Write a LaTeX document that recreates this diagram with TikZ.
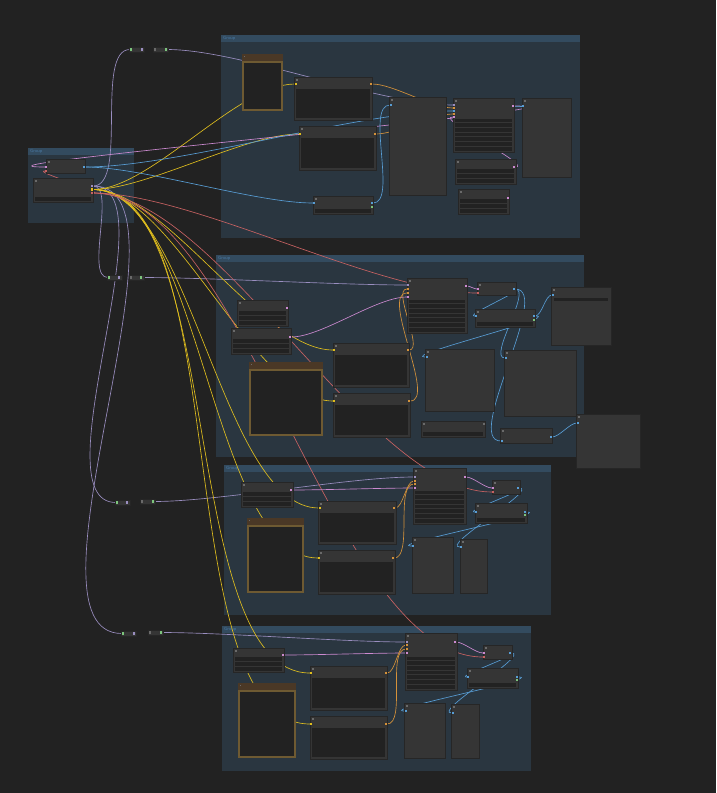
\documentclass[tikz,border=0pt]{standalone}
\usepackage{tikz}
\pgfdeclarelayer{groups}
\pgfdeclarelayer{links}
\pgfsetlayers{groups,links,main}

\definecolor{canvas}{HTML}{222222}
\definecolor{grpbody}{HTML}{2A3640}
\definecolor{grphead}{HTML}{334B5F}
\definecolor{grptext}{HTML}{4A7AA5}
\definecolor{nodebg}{HTML}{353535}
\definecolor{nodeedge}{HTML}{262626}
\definecolor{wellbg}{HTML}{222222}
\definecolor{imgtitle}{HTML}{4A3826}
\definecolor{imgedge}{HTML}{6E5A32}
\definecolor{dotgray}{HTML}{6A6A6A}
\definecolor{cmodel}{HTML}{9A8EC0}
\definecolor{cclip}{HTML}{E0BE1E}
\definecolor{cvae}{HTML}{C86262}
\definecolor{clatent}{HTML}{CC8AD0}
\definecolor{ccond}{HTML}{D4923A}
\definecolor{cimage}{HTML}{589DD4}
\definecolor{cmask}{HTML}{7CC47C}

\tikzset{
  grp/.style={fill=grpbody, anchor=north west, inner sep=0pt, outer sep=0pt,
    path picture={\fill[grphead] (path picture bounding box.north west) rectangle ([yshift=-7pt]path picture bounding box.north east);}},
  grplabel/.style={anchor=west, text=grptext, inner sep=0pt, font=\sffamily\fontsize{4.5}{5}\selectfont},
  cbox/.style={fill=nodebg, draw=nodeedge, line width=.5pt, anchor=north west, inner sep=0pt, outer sep=0pt,
    path picture={\fill[dotgray] ([shift={(2pt,-2pt)}]path picture bounding box.north west) rectangle ++(1.6pt,-1.6pt);}},
  txtbox/.style={cbox,
    path picture={\fill[dotgray] ([shift={(2pt,-2pt)}]path picture bounding box.north west) rectangle ++(1.6pt,-1.6pt);
      \fill[wellbg] ([shift={(2pt,-12pt)}]path picture bounding box.north west) rectangle ([shift={(-2pt,2pt)}]path picture bounding box.south east);}},
  wrows/.style={cbox,
    path picture={\fill[dotgray] ([shift={(2pt,-2pt)}]path picture bounding box.north west) rectangle ++(1.6pt,-1.6pt);
      \foreach \k in {1,...,#1}
        \fill[wellbg] ([shift={(2pt,{(\k-1)*4.7pt+1.5pt})}]path picture bounding box.south west) rectangle ([shift={(-2pt,{(\k-1)*4.7pt+5.2pt})}]path picture bounding box.south east);}},
  imgbox/.style={fill=imgtitle, anchor=north west, inner sep=0pt, outer sep=0pt,
    path picture={\draw[imgedge, line width=1.6pt, fill=wellbg] ([shift={(1pt,-8pt)}]path picture bounding box.north west) rectangle ([shift={(-1pt,1pt)}]path picture bounding box.south east);
      \fill[dotgray] ([shift={(2pt,-2pt)}]path picture bounding box.north west) rectangle ++(1.4pt,-1.4pt);}},
  rer/.style={fill=nodebg, draw=nodeedge, line width=.4pt, anchor=north west, inner sep=0pt, outer sep=0pt, minimum width=15pt, minimum height=5pt},
  port/.style={fill=#1, minimum size=2.2pt, inner sep=0pt, outer sep=0pt},
  lnk/.style={color=#1, line width=.65pt, out=0, in=180, looseness=.64},
}

\begin{document}
\begin{tikzpicture}[x=1pt,y=-1pt]
\useasboundingbox (0,0) rectangle (716,793);
\begin{pgfonlayer}{groups}
\fill[canvas] (0,0) rectangle (716,793);
\node[grp,minimum width=106pt,minimum height=75pt] (grp0) at (28,148) {};
\node[grp,minimum width=359pt,minimum height=203pt] (grp1) at (221,35) {};
\node[grp,minimum width=368pt,minimum height=202pt] (grp2) at (216,255) {};
\node[grp,minimum width=327pt,minimum height=150pt] (grp3) at (224,465) {};
\node[grp,minimum width=309pt,minimum height=145pt] (grp4) at (222,626) {};
\node[grplabel] at ([shift={(2pt,-3.5pt)}]grp0.north west) {Group};
\node[grplabel] at ([shift={(2pt,-3.5pt)}]grp1.north west) {Group};
\node[grplabel] at ([shift={(2pt,-3.5pt)}]grp2.north west) {Group};
\node[grplabel] at ([shift={(2pt,-3.5pt)}]grp3.north west) {Group};
\node[grplabel] at ([shift={(2pt,-3.5pt)}]grp4.north west) {Group};
\end{pgfonlayer}

% left group and reroutes
\node[cbox,minimum width=39pt,minimum height=14pt] (dec0) at (46,159) {};
\node[wrows=1,minimum width=60pt,minimum height=24pt] (ckpt) at (33,178) {};
\node[rer] (ra1) at (129,47) {};
\node[rer] (rb1) at (153,47) {};
\node[rer] (ra2) at (107,275) {};
\node[rer] (rb2) at (129,275) {};
\node[rer] (ra3) at (115,500) {};
\node[rer] (rb3) at (140,499) {};
\node[rer] (ra4) at (121,631) {};
\node[rer] (rb4) at (148,630) {};

% group 1
\node[imgbox,minimum width=41pt,minimum height=57pt] (img1) at (242,54) {};
\node[txtbox,minimum width=78pt,minimum height=43pt] (pos1) at (294,77) {};
\node[txtbox,minimum width=77pt,minimum height=44pt] (neg1) at (299,126) {};
\node[wrows=1,minimum width=60pt,minimum height=18pt] (load1) at (313,196) {};
\node[cbox,minimum width=57pt,minimum height=98pt] (big1) at (389,97) {};
\node[wrows=7,minimum width=61pt,minimum height=54pt] (samp1) at (453,98) {};
\node[cbox,minimum width=49pt,minimum height=79pt] (prev1) at (522,98) {};
\node[wrows=3,minimum width=61pt,minimum height=25pt] (enc1) at (455,159) {};
\node[wrows=3,minimum width=51pt,minimum height=25pt] (lat1) at (458,189) {};

% group 2
\node[wrows=3,minimum width=51pt,minimum height=26pt] (lat2a) at (237,300) {};
\node[wrows=3,minimum width=60pt,minimum height=26pt] (lat2) at (231,328) {};
\node[imgbox,minimum width=74pt,minimum height=74pt] (img2) at (249,362) {};
\node[txtbox,minimum width=76pt,minimum height=44pt] (pos2) at (333,343) {};
\node[txtbox,minimum width=77pt,minimum height=44pt] (neg2) at (333,393) {};
\node[wrows=7,minimum width=60pt,minimum height=55pt] (samp2) at (407,278) {};
\node[cbox,minimum width=39pt,minimum height=13pt] (dec2) at (477,282) {};
\node[wrows=1,minimum width=60pt,minimum height=18pt] (up2) at (475,309) {};
\node[cbox,minimum width=60pt,minimum height=58pt] (prev2c) at (551,287) {};
\fill[wellbg] ([shift={(3pt,-11pt)}]prev2c.north west) rectangle ([shift={(-3pt,-14pt)}]prev2c.north east);
\node[cbox,minimum width=69pt,minimum height=62pt] (prev2a) at (425,349) {};
\node[cbox,minimum width=72pt,minimum height=66pt] (prev2b) at (504,350) {};
\node[wrows=1,minimum width=64pt,minimum height=16pt] (opt2) at (421,421) {};
\node[cbox,minimum width=52pt,minimum height=15pt] (up2b) at (500,428) {};
\node[cbox,minimum width=64pt,minimum height=54pt] (prev2d) at (576,414) {};

% group 3
\node[wrows=3,minimum width=52pt,minimum height=25pt] (lat3) at (241,482) {};
\node[imgbox,minimum width=57pt,minimum height=75pt] (img3) at (247,518) {};
\node[txtbox,minimum width=78pt,minimum height=43pt] (pos3) at (318,501) {};
\node[txtbox,minimum width=77pt,minimum height=44pt] (neg3) at (318,550) {};
\node[wrows=7,minimum width=53pt,minimum height=56pt] (samp3) at (413,468) {};
\node[cbox,minimum width=28pt,minimum height=14pt] (dec3) at (492,480) {};
\node[wrows=1,minimum width=52pt,minimum height=20pt] (up3) at (475,503) {};
\node[cbox,minimum width=41pt,minimum height=56pt] (prev3a) at (412,537) {};
\node[cbox,minimum width=27pt,minimum height=54pt] (prev3b) at (460,539) {};

% group 4
\node[wrows=3,minimum width=51pt,minimum height=24pt] (lat4) at (233,648) {};
\node[imgbox,minimum width=58pt,minimum height=75pt] (img4) at (238,683) {};
\node[txtbox,minimum width=77pt,minimum height=44pt] (pos4) at (310,666) {};
\node[txtbox,minimum width=77pt,minimum height=43pt] (neg4) at (310,716) {};
\node[wrows=7,minimum width=52pt,minimum height=57pt] (samp4) at (405,633) {};
\node[cbox,minimum width=29pt,minimum height=14pt] (dec4) at (483,645) {};
\node[wrows=1,minimum width=51pt,minimum height=20pt] (up4) at (467,668) {};
\node[cbox,minimum width=41pt,minimum height=55pt] (prev4a) at (404,703) {};
\node[cbox,minimum width=28pt,minimum height=54pt] (prev4b) at (451,704) {};

% ports
\node[port=clatent] (dec0-l) at (46,167) {};
\node[port=cvae] (dec0-v) at (46,171) {};
\node[port=cimage] (dec0-o) at (84,167) {};
\node[port=cmodel] (ckpt-m) at (92,186) {};
\node[port=cclip] (ckpt-c) at (92,189.5) {};
\node[port=cvae] (ckpt-v) at (92,193) {};
\node[port=cmask] (ra1-i) at (131,49.5) {};
\node[port=cmodel] (ra1-o) at (142,49.5) {};
\node[port=dotgray] (rb1-i) at (155,49.5) {};
\node[port=cmask] (rb1-o) at (166,49.5) {};
\node[port=cmask] (ra2-i) at (109,277.5) {};
\node[port=cmodel] (ra2-o) at (119,277.5) {};
\node[port=dotgray] (rb2-i) at (131,277.5) {};
\node[port=cmask] (rb2-o) at (141,277.5) {};
\node[port=cmask] (ra3-i) at (117,502.5) {};
\node[port=cmodel] (ra3-o) at (127,502.5) {};
\node[port=dotgray] (rb3-i) at (142,501.5) {};
\node[port=cmask] (rb3-o) at (153,501.5) {};
\node[port=cmask] (ra4-i) at (123,633.5) {};
\node[port=cmodel] (ra4-o) at (134,633.5) {};
\node[port=dotgray] (rb4-i) at (150,632.5) {};
\node[port=cmask] (rb4-o) at (161,632.5) {};

\node[port=cclip] (pos1-i) at (296,84) {};
\node[port=ccond] (pos1-o) at (371,84) {};
\node[port=cclip] (neg1-i) at (300,134) {};
\node[port=ccond] (neg1-o) at (375,134) {};
\node[port=cimage] (load1-i) at (314,203) {};
\node[port=cimage] (load1-o) at (372,203) {};
\node[port=cmask] (load1-g) at (372,207) {};
\node[port=cimage] (big1-i) at (391,105) {};
\node[port=cmodel] (samp1-m) at (454,105) {};
\node[port=ccond] (samp1-p) at (454,108) {};
\node[port=cimage] (samp1-b) at (454,111) {};
\node[port=ccond] (samp1-n) at (454,114) {};
\node[port=clatent] (samp1-l) at (454,117) {};
\node[port=clatent] (samp1-o) at (513,106) {};
\node[port=cimage] (prev1-i) at (523,106) {};
\node[port=clatent] (enc1-o) at (514,167) {};
\node[port=clatent] (lat1-o) at (508,198) {};

\node[port=clatent] (lat2a-o) at (287,308) {};
\node[port=clatent] (lat2-o) at (290,337) {};
\node[port=cclip] (pos2-i) at (334,350) {};
\node[port=ccond] (pos2-o) at (408,350) {};
\node[port=cclip] (neg2-i) at (334,401) {};
\node[port=ccond] (neg2-o) at (409,401) {};
\node[port=cmodel] (samp2-m) at (408,285) {};
\node[port=ccond] (samp2-p) at (408,289) {};
\node[port=ccond] (samp2-n) at (408,293) {};
\node[port=clatent] (samp2-l) at (408,297) {};
\node[port=clatent] (samp2-o) at (466,286) {};
\node[port=clatent] (dec2-l) at (478,289) {};
\node[port=cvae] (dec2-v) at (478,293) {};
\node[port=cimage] (dec2-o) at (514,289) {};
\node[port=cimage] (up2-i) at (476,316) {};
\node[port=cimage] (up2-o) at (534,316) {};
\node[port=cmask] (up2-g) at (534,320) {};
\node[port=cimage] (prev2c-i) at (553,295) {};
\node[port=cimage] (prev2a-i) at (427,357) {};
\node[port=cimage] (prev2b-i) at (506,358) {};
\node[port=dotgray] (opt2-o) at (484,424) {};
\node[port=cimage] (up2b-i) at (502,441) {};
\node[port=cimage] (up2b-o) at (551,437) {};
\node[port=cimage] (prev2d-i) at (578,423) {};

\node[port=clatent] (lat3-o) at (291,490) {};
\node[port=cclip] (pos3-i) at (320,508) {};
\node[port=ccond] (pos3-o) at (394,508) {};
\node[port=cclip] (neg3-i) at (319,558) {};
\node[port=ccond] (neg3-o) at (393,558) {};
\node[port=cmodel] (samp3-m) at (415,477) {};
\node[port=ccond] (samp3-p) at (415,481) {};
\node[port=ccond] (samp3-n) at (415,484) {};
\node[port=clatent] (samp3-l) at (415,488) {};
\node[port=clatent] (samp3-o) at (465,477) {};
\node[port=clatent] (dec3-l) at (493,488) {};
\node[port=cvae] (dec3-v) at (493,492) {};
\node[port=cimage] (dec3-o) at (518,488) {};
\node[port=cimage] (up3-i) at (476,512) {};
\node[port=cimage] (up3-o) at (525,512) {};
\node[port=cmask] (up3-g) at (525,515) {};
\node[port=cimage] (prev3a-i) at (413,546) {};
\node[port=cimage] (prev3b-i) at (461,547) {};

\node[port=clatent] (lat4-o) at (283,655) {};
\node[port=cclip] (pos4-i) at (311,673) {};
\node[port=ccond] (pos4-o) at (386,673) {};
\node[port=cclip] (neg4-i) at (311,724) {};
\node[port=ccond] (neg4-o) at (386,724) {};
\node[port=cmodel] (samp4-m) at (407,642) {};
\node[port=ccond] (samp4-p) at (407,645) {};
\node[port=ccond] (samp4-n) at (407,649) {};
\node[port=clatent] (samp4-l) at (407,653) {};
\node[port=clatent] (samp4-o) at (455,642) {};
\node[port=clatent] (dec4-l) at (484,653) {};
\node[port=cvae] (dec4-v) at (484,657) {};
\node[port=cimage] (dec4-o) at (510,653) {};
\node[port=cimage] (up4-i) at (468,677) {};
\node[port=cimage] (up4-o) at (517,677) {};
\node[port=cmask] (up4-g) at (517,680) {};
\node[port=cimage] (prev4a-i) at (406,711) {};
\node[port=cimage] (prev4b-i) at (453,713) {};

\begin{pgfonlayer}{links}
\path [lnk=cmodel](ckpt-m) edge (ra1-i) edge (ra2-i) edge (ra3-i) edge (ra4-i);
\path [lnk=cmodel](rb1-o) edge (samp1-m);
\path [lnk=cmodel](rb2-o) edge (samp2-m);
\path [lnk=cmodel](rb3-o) edge (samp3-m);
\path [lnk=cmodel](rb4-o) edge (samp4-m);
\path [lnk=cclip](ckpt-c) edge (pos1-i) edge (neg1-i) edge (pos2-i) edge (neg2-i)
  edge (pos3-i) edge (neg3-i) edge (pos4-i) edge (neg4-i);
\path [lnk=cvae](ckpt-v) edge (dec0-v) edge (dec2-v) edge (dec3-v) edge (dec4-v);
\path [lnk=clatent](samp1-o) edge (dec0-l);
\path [lnk=clatent](enc1-o) edge (samp1-l);
\path [lnk=clatent](lat2-o) edge (samp2-l);
\path [lnk=clatent](samp2-o) edge (dec2-l);
\path [lnk=clatent](lat3-o) edge (samp3-l);
\path [lnk=clatent](samp3-o) edge (dec3-l);
\path [lnk=clatent](lat4-o) edge (samp4-l);
\path [lnk=clatent](samp4-o) edge (dec4-l);
\path [lnk=ccond](pos1-o) edge (samp1-p);
\path [lnk=ccond](neg1-o) edge (samp1-n);
\path [lnk=ccond](pos2-o) edge (samp2-p);
\path [lnk=ccond](neg2-o) edge (samp2-n);
\path [lnk=ccond](pos3-o) edge (samp3-p);
\path [lnk=ccond](neg3-o) edge (samp3-n);
\path [lnk=ccond](pos4-o) edge (samp4-p);
\path [lnk=ccond](neg4-o) edge (samp4-n);
\path [lnk=cimage](dec0-o) edge (load1-i) edge (samp1-b);
\path [lnk=cimage](load1-o) edge (big1-i);
\path [lnk=cimage](samp1-o) edge (prev1-i);
\path [lnk=cimage](dec2-o) edge (up2-i) edge (prev2b-i) edge (up2b-i);
\path [lnk=cimage](up2-o) edge (prev2c-i) edge (prev2a-i);
\path [lnk=cimage](up2b-o) edge (prev2d-i);
\path [lnk=cimage](dec3-o) edge (up3-i) edge (prev3b-i);
\path [lnk=cimage](up3-o) edge (prev3a-i);
\path [lnk=cimage](dec4-o) edge (up4-i) edge (prev4b-i);
\path [lnk=cimage](up4-o) edge (prev4a-i);
\end{pgfonlayer}
\end{tikzpicture}
\end{document}
